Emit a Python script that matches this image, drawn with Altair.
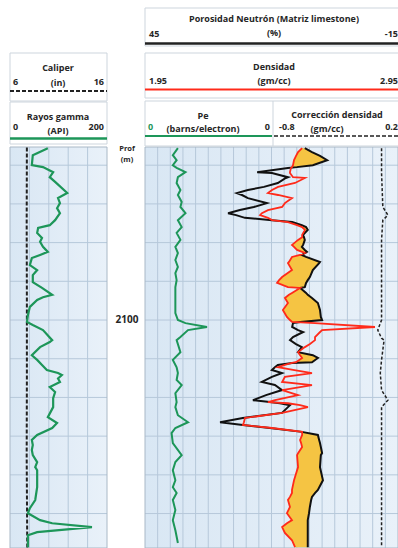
import altair as alt
import pandas as pd

FONT = "Open Sans"
TOP, BOT = 2055.3, 2158.9

# ---------------- data ----------------
gr_depth = [2055.6, 2057.4, 2060.0, 2060.5, 2061.8, 2063.1, 2064.3, 2067.2, 2068.5, 2069.8,
            2071.1, 2072.4, 2074.2, 2075.5, 2076.2, 2077.5, 2078.8, 2079.8, 2081.1, 2082.4,
            2083.2, 2084.0, 2085.8, 2087.1, 2088.4, 2090.2, 2091.7, 2093.5, 2094.1, 2094.8,
            2096.6, 2098.7, 2100.5, 2101.3, 2102.6, 2105.2, 2105.7, 2107.0, 2109.1, 2110.3,
            2111.6, 2112.9, 2113.7, 2114.2, 2115.1, 2116.0, 2117.3, 2118.6, 2120.2, 2122.5,
            2125.1, 2126.6, 2127.9, 2129.7, 2131.0, 2132.3, 2133.6, 2134.9, 2136.7, 2138.0,
            2138.8, 2143.2, 2146.5, 2148.6, 2149.9, 2151.7, 2152.5, 2153.5, 2154.8, 2155.6,
            2158.7]
gr_api = [78, 47, 45, 68, 89, 82, 93, 118, 99, 103,
          97, 103, 93, 82, 58, 56, 66, 62, 68, 78,
          62, 45, 41, 56, 47, 47, 66, 87, 68, 56,
          41, 37, 35, 47, 68, 87, 82, 62, 45, 56,
          66, 76, 99, 107, 99, 103, 82, 93, 89, 89,
          78, 97, 87, 56, 45, 47, 45, 47, 56, 52,
          56, 56, 52, 41, 37, 62, 87, 169, 56, 37,
          37]

cal_depth = [2055.4, 2075.0, 2095.0, 2115.0, 2135.0, 2158.8]
cal_in = [7.74, 7.72, 7.74, 7.74, 7.72, 7.78]

pe_depth = [2055.6, 2057.4, 2058.7, 2060.0, 2060.7, 2061.8, 2063.1, 2064.6, 2066.4, 2067.7,
            2069.5, 2070.8, 2072.4, 2074.2, 2076.0, 2077.5, 2079.3, 2081.1, 2082.7, 2084.5,
            2086.3, 2087.9, 2089.7, 2091.5, 2098.2, 2100.0, 2100.8, 2101.8, 2102.6, 2104.4,
            2105.2, 2108.3, 2110.3, 2112.2, 2113.7, 2115.5, 2116.8, 2118.9, 2121.2, 2122.5,
            2124.6, 2126.4, 2127.9, 2129.2, 2131.8, 2134.9, 2136.7, 2138.8, 2141.4, 2143.2,
            2144.7, 2146.5, 2149.1, 2151.7, 2154.3, 2157.6]
pe_val = [2.6, 2.2, 2.5, 2.2, 2.5, 3.2, 2.6, 2.5, 2.8, 2.6,
          2.9, 2.8, 3.2, 2.6, 2.9, 2.5, 2.8, 2.4, 2.6, 2.4,
          2.6, 2.4, 2.5, 2.4, 2.4, 2.6, 3.2, 4.9, 3.4, 2.8,
          2.5, 2.8, 2.2, 2.5, 2.6, 2.5, 2.9, 2.4, 2.5, 2.4,
          2.6, 3.4, 2.4, 2.1, 2.2, 2.9, 2.4, 2.2, 2.4, 2.2,
          2.5, 2.2, 2.4, 2.2, 2.4, 2.6]

nd_depth = [2055.6, 2056.6, 2057.6, 2058.7, 2060.0, 2060.5, 2060.7, 2061.8, 2062.0, 2063.1,
            2063.3, 2064.6, 2065.6, 2066.4, 2067.2, 2067.7, 2068.5, 2069.8, 2070.8, 2071.6,
            2072.4, 2072.9, 2073.6, 2074.2, 2074.7, 2075.5, 2076.0, 2076.7, 2078.0, 2078.6,
            2079.3, 2080.6, 2081.1, 2081.9, 2082.4, 2082.7, 2083.2, 2083.7, 2085.0, 2085.3,
            2087.1, 2088.9, 2089.7, 2090.4, 2091.5, 2091.7, 2093.0, 2093.5, 2094.3, 2095.6,
            2097.4, 2099.2, 2100.0, 2100.5, 2100.8, 2101.8, 2102.6, 2103.1, 2104.4, 2105.2,
            2106.2, 2107.0, 2108.3, 2109.1, 2109.8, 2110.9, 2111.1, 2111.6, 2112.2, 2112.9,
            2113.7, 2114.7, 2116.0, 2116.8, 2118.1, 2119.4, 2120.7, 2121.2, 2121.5, 2122.0,
            2122.5, 2124.0, 2125.3, 2126.4, 2127.1, 2127.9, 2128.9, 2129.7, 2131.0, 2131.8,
            2132.8, 2134.4, 2134.9, 2138.0, 2141.4, 2143.9, 2144.7, 2145.7, 2146.5, 2148.3,
            2149.9, 2151.7, 2152.5, 2153.5, 2155.0, 2156.9, 2158.7]
rhob = [2.571, 2.555, 2.547, 2.539, 2.535, 2.531, 2.527, 2.523, 2.523, 2.535,
        2.582, 2.543, 2.476, 2.452, 2.436, 2.476, 2.531, 2.503, 2.492, 2.436,
        2.412, 2.405, 2.436, 2.452, 2.515, 2.551, 2.571, 2.582, 2.571, 2.571,
        2.555, 2.531, 2.539, 2.551, 2.571, 2.582, 2.563, 2.531, 2.519, 2.515,
        2.531, 2.492, 2.480, 2.472, 2.515, 2.563, 2.531, 2.519, 2.503, 2.515,
        2.495, 2.511, 2.523, 2.531, 2.622, 2.859, 2.650, 2.642, 2.622, 2.622,
        2.602, 2.582, 2.555, 2.563, 2.571, 2.547, 2.531, 2.503, 2.476, 2.535,
        2.610, 2.503, 2.492, 2.610, 2.492, 2.555, 2.464, 2.436, 2.515, 2.563,
        2.594, 2.492, 2.345, 2.341, 2.337, 2.452, 2.571, 2.571, 2.563, 2.567,
        2.571, 2.555, 2.551, 2.555, 2.539, 2.531, 2.531, 2.523, 2.515, 2.523,
        2.511, 2.531, 2.511, 2.492, 2.503, 2.531, 2.543]
nphi = [7.1, 5.4, 3.5, 1.8, 5.2, 9.0, 11.1, 18.4, 14.9, 11.1,
        11.6, 13.5, 16.8, 20.6, 23.2, 22.0, 20.6, 16.1, 19.2, 22.5,
        25.3, 23.4, 21.3, 14.9, 10.1, 7.8, 6.8, 6.4, 7.5, 7.3,
        7.1, 7.5, 7.8, 7.1, 6.6, 7.1, 7.8, 6.8, 3.5, 3.7,
        5.2, 5.9, 6.4, 6.8, 7.1, 8.2, 6.8, 6.4, 5.4, 4.0,
        3.5, 3.3, 3.0, 8.2, 9.9, 10.1, 8.7, 7.5, 9.9, 10.6,
        9.2, 7.8, 8.7, 5.2, 4.0, 5.4, 10.1, 13.5, 14.2, 14.9,
        12.5, 14.9, 17.3, 14.2, 12.5, 16.3, 19.4, 15.4, 13.0, 10.6,
        11.1, 12.5, 21.8, 27.2, 21.8, 15.4, 7.8, 4.0, 3.7, 3.5,
        3.3, 3.0, 3.3, 3.5, 2.8, 4.0, 4.7, 5.4, 5.6, 5.9,
        6.1, 6.4, 6.4, 6.4, 6.4, 6.4, 6.4]

drho_depth = [2055.6, 2062.0, 2070.8, 2072.9, 2074.2, 2079.3, 2087.9, 2096.6, 2100.0, 2102.6,
              2104.7, 2105.2, 2110.3, 2113.7, 2118.1, 2120.7, 2122.5, 2127.7, 2135.4, 2143.9,
              2158.7]
drho = [0.07, 0.07, 0.08, 0.12, 0.08, 0.07, 0.07, 0.07, 0.07, 0.04,
        0.07, 0.09, 0.07, 0.06, 0.07, 0.12, 0.07, 0.07, 0.07, 0.07,
        0.07]

grid_depths = [2060, 2070, 2080, 2090, 2100, 2110, 2120, 2130, 2140, 2150]
cal_grid = [8, 10, 12, 14]
dens_grid = [2.00, 2.05, 2.10, 2.15, 2.20, 2.25, 2.30, 2.35, 2.40, 2.45,
             2.50, 2.55, 2.60, 2.65, 2.70, 2.75, 2.80, 2.85, 2.90]
depth_labels = [2100]

# ---------------- tables ----------------
gr_df = pd.DataFrame({"depth": gr_depth, "gr": gr_api})
cal_df = pd.DataFrame({"depth": cal_depth, "cal": cal_in})
pe_df = pd.DataFrame({"depth": pe_depth, "pe": pe_val})
nd_df = pd.DataFrame({"depth": nd_depth, "rhob": rhob, "nphi": nphi})
drho_df = pd.DataFrame({"depth": drho_depth, "drho": drho})
hgrid_df = pd.DataFrame({"depth": grid_depths})
cgrid_df = pd.DataFrame({"cal": cal_grid, "depth": TOP, "depth2": BOT})
dgrid_df = pd.DataFrame({"rhob": dens_grid, "depth": TOP, "depth2": BOT})
lab_df = pd.DataFrame({"depth": depth_labels, "lab": [str(v) for v in depth_labels]})
one = pd.DataFrame({"depth": [TOP], "depth2": [BOT]})

# ---------------- scales ----------------
def sc(domain, rng):
    return alt.Scale(domain=domain, range=rng, nice=False, zero=False)

ysc = sc([TOP, BOT], [147, 548])
cal_sc = sc([6, 16], [10, 107])
gr_sc = sc([0, 200], [10, 107])
den_sc = sc([1.95, 2.95], [145, 398])
nphi_sc = sc([45, -15], [145, 398])
pe_sc = sc([0, 10], [145, 271.5])
drho_sc = sc([-0.8, 0.2], [271.5, 398])

Y = alt.Y("depth:Q", scale=ysc, axis=None)
Y2 = alt.Y2("depth2:Q")

GREEN = "#1d9659"
RED = "#ff2a1a"
GRID = "#b6c8da"
TXT = "#262626"

bg_grad = alt.LinearGradient(gradient="linear", x1=0, x2=1, y1=0, y2=0,
                             stops=[alt.GradientStop(color="#d9e7f4", offset=0),
                                    alt.GradientStop(color="#e9f1f9", offset=1)])

layers = []

# track backgrounds
layers.append(alt.Chart(one).transform_calculate(a="6", b="16").mark_rect(fill=bg_grad).encode(
    x=alt.X("a:Q", scale=cal_sc, axis=None), x2="b:Q", y=Y, y2=Y2))
layers.append(alt.Chart(one).transform_calculate(a="1.95", b="2.95").mark_rect(fill=bg_grad).encode(
    x=alt.X("a:Q", scale=den_sc, axis=None), x2="b:Q", y=Y, y2=Y2))

# grids
layers.append(alt.Chart(cgrid_df).mark_rule(color=GRID, strokeWidth=1).encode(
    x=alt.X("cal:Q", scale=cal_sc, axis=None), y=Y, y2=Y2))
layers.append(alt.Chart(dgrid_df).mark_rule(color=GRID, strokeWidth=1).encode(
    x=alt.X("rhob:Q", scale=den_sc, axis=None), y=Y, y2=Y2))
layers.append(alt.Chart(hgrid_df).transform_calculate(a="6", b="16").mark_rule(color=GRID, strokeWidth=1).encode(
    x=alt.X("a:Q", scale=cal_sc, axis=None), x2="b:Q", y=Y))
layers.append(alt.Chart(hgrid_df).transform_calculate(a="1.95", b="2.95").mark_rule(color=GRID, strokeWidth=1).encode(
    x=alt.X("a:Q", scale=den_sc, axis=None), x2="b:Q", y=Y))

# track borders
layers.append(alt.Chart(one).transform_calculate(a="6", b="16").mark_rect(fill=None, stroke="#a9b8c6", strokeWidth=1).encode(
    x=alt.X("a:Q", scale=cal_sc, axis=None), x2="b:Q", y=Y, y2=Y2))
layers.append(alt.Chart(one).transform_calculate(a="1.95", b="2.95").mark_rect(fill=None, stroke="#a9b8c6", strokeWidth=1).encode(
    x=alt.X("a:Q", scale=den_sc, axis=None), x2="b:Q", y=Y, y2=Y2))

# left track curves
layers.append(alt.Chart(cal_df).mark_line(color="#222", strokeWidth=2, strokeDash=[4, 2]).encode(
    x=alt.X("cal:Q", scale=cal_sc, axis=None), y=Y, order="depth:Q"))
layers.append(alt.Chart(gr_df).mark_line(color=GREEN, strokeWidth=2.2).encode(
    x=alt.X("gr:Q", scale=gr_sc, axis=None), y=Y, order="depth:Q"))

# right track curves
layers.append(alt.Chart(nd_df).transform_calculate(
    xr="max(datum.rhob, 1.95 + (45 - datum.nphi) / 60)").mark_area(
    orient="horizontal", color="#f5c443", opacity=1).encode(
    x=alt.X("rhob:Q", scale=den_sc, axis=None), x2="xr:Q", y=Y))
layers.append(alt.Chart(pe_df).mark_line(color=GREEN, strokeWidth=2).encode(
    x=alt.X("pe:Q", scale=pe_sc, axis=None), y=Y, order="depth:Q"))
layers.append(alt.Chart(nd_df).mark_line(color="#111", strokeWidth=2).encode(
    x=alt.X("nphi:Q", scale=nphi_sc, axis=None), y=Y, order="depth:Q"))
layers.append(alt.Chart(nd_df).mark_line(color=RED, strokeWidth=1.8).encode(
    x=alt.X("rhob:Q", scale=den_sc, axis=None), y=Y, order="depth:Q"))
layers.append(alt.Chart(drho_df).mark_line(color="#222", strokeWidth=1.5, strokeDash=[3, 2]).encode(
    x=alt.X("drho:Q", scale=drho_sc, axis=None), y=Y, order="depth:Q"))

# depth labels
layers.append(alt.Chart(lab_df).mark_text(font=FONT, fontSize=10, fontWeight="bold", color=TXT).encode(
    x=alt.value(127), y=Y, text="lab:N"))

# ---------------- headers ----------------
dummy = pd.DataFrame({"k": [0]})

def box(x1, x2, y1, y2):
    return alt.Chart(dummy).mark_rect(fill="white", stroke="#cdd5dd", strokeWidth=1).encode(
        x=alt.value(x1), x2=alt.value(x2), y=alt.value(y1), y2=alt.value(y2))

def txt(s, x, y, align="center", size=9, color=TXT):
    return alt.Chart(dummy).mark_text(text=s, align=align, baseline="middle", font=FONT,
                                      fontSize=size, fontWeight="bold", color=color).encode(
        x=alt.value(x), y=alt.value(y))

def hline(x1, x2, y, color, width, dash=None):
    kw = dict(color=color, strokeWidth=width)
    if dash:
        kw["strokeDash"] = dash
    return alt.Chart(dummy).mark_rule(**kw).encode(x=alt.value(x1), x2=alt.value(x2), y=alt.value(y))

def vline(x, y1, y2, color, width):
    return alt.Chart(dummy).mark_rule(color=color, strokeWidth=width).encode(
        x=alt.value(x), y=alt.value(y1), y2=alt.value(y2))

hdr = [
    box(10, 107, 53, 101), box(10, 107, 102, 144),
    box(145, 400, 8, 46), box(145, 400, 53, 98), box(145, 400, 101, 146),
    vline(273, 101, 146, "#cdd5dd", 1),
    txt("Caliper", 58, 68), txt("6", 13, 82, "left"), txt("(in)", 58, 83), txt("16", 104, 82, "right"),
    hline(10, 107, 91, "#222", 2, [4, 2]),
    txt("Rayos gamma", 58, 117), txt("0", 13, 127, "left"), txt("(API)", 58, 131), txt("200", 104, 127, "right"),
    hline(10, 107, 138.5, GREEN, 2.5),
    txt("Porosidad Neutrón (Matriz limestone)", 274, 19), txt("45", 149, 34, "left"),
    txt("(%)", 274, 32.5), txt("-15", 398, 34, "right"),
    hline(145, 398, 43.5, "#222", 2.5),
    txt("Densidad", 274, 67), txt("(gm/cc)", 274, 80.5), txt("1.95", 149, 81, "left"), txt("2.95", 398, 81, "right"),
    hline(145, 398, 89.5, RED, 2),
    txt("Pe", 203, 115.5), txt("(barns/electron)", 203, 129), txt("0", 148, 127, "left", color=GREEN),
    txt("0", 270, 127, "right"),
    hline(145, 272, 136, GREEN, 2),
    txt("Corrección densidad", 337, 114.5), txt("-0.8", 279, 127, "left"), txt("(gm/cc)", 327, 129),
    txt("0.2", 398, 127, "right"),
    hline(274, 398, 136, "#222", 1.6, [4, 2]),
    txt("Prof", 127, 149, size=7.5), txt("(m)", 127, 160, size=7.5),
]

chart = alt.layer(*(layers + hdr)).resolve_scale(x="independent", y="independent").properties(
    width=398, height=548, padding=0, autosize="none", background="white"
).configure_view(stroke=None)

chart.save("out.html", embed_options={"renderer": "svg", "actions": False})
